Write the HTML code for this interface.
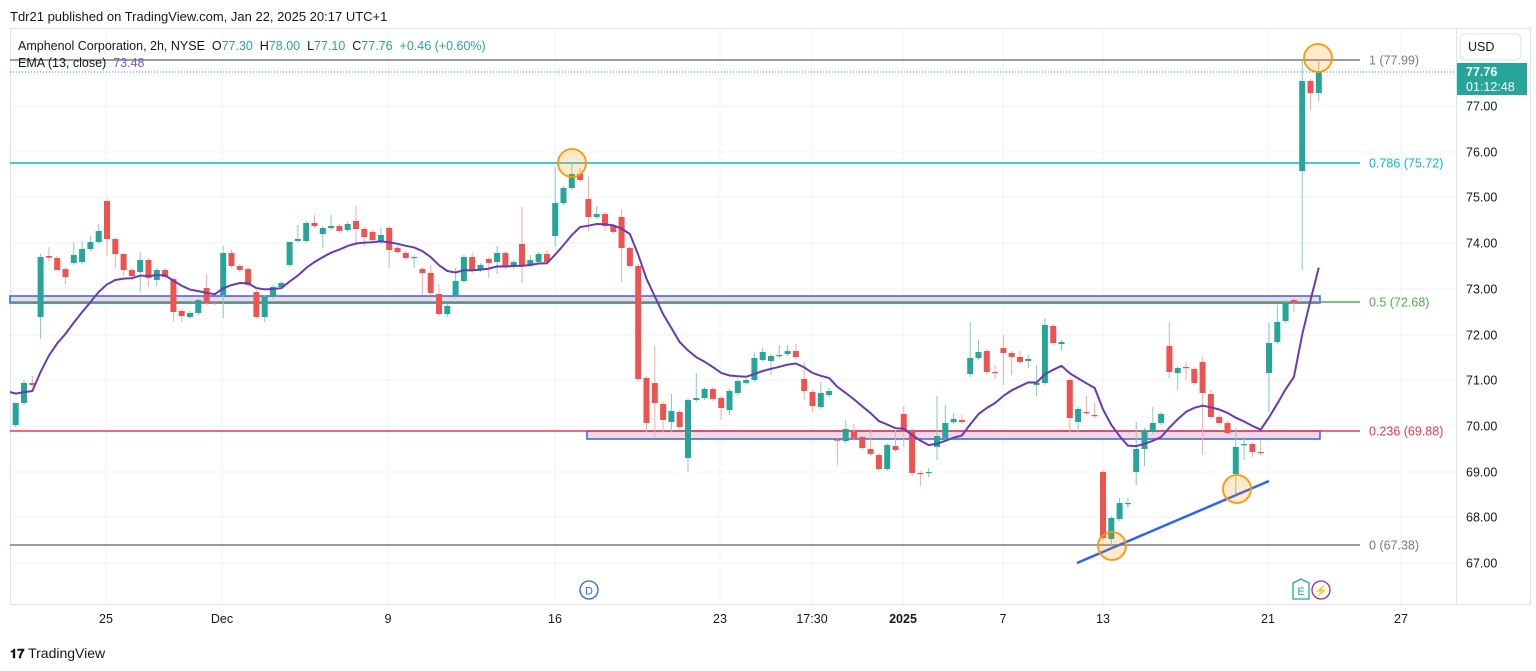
<!DOCTYPE html><html><head><meta charset="utf-8"><style>
body{margin:0;width:1536px;height:671px;background:#fff;overflow:hidden;font-family:"Liberation Sans",sans-serif}
svg{position:absolute;left:0;top:0}
</style></head><body>
<svg id="s" width="1536" height="671" xmlns="http://www.w3.org/2000/svg" font-family="Liberation Sans, sans-serif"></svg>
<script>
const C=[[425,403,403,427],[403,383,380,405],[383,385,376,387],[317,257,254,339],[256,257.7,247,262],[258,270,256,270],[269,277,267,284],[263,255,242,265],[262,249,241,264],[249,242,236,251],[242,231,224,244],[201,239,199,256],[239,254,238,268],[254,270,253,276],[270,276,268,280],[272,260,252,292],[260,278,258,287],[280,270,268,286],[270,277,268,279],[279,312,277,322],[311,316,309,322],[317,313,311,319],[313,300,299,315],[288,303,274,305],[302,303,300,305],[295,253,246,318],[253,266,250,268],[266,270,264,272],[269,285,267,287],[292,317,290,319],[317,297,295,322],[297,287,285,299],[287,283,281,289],[265,242,242,267],[241,239,225,243],[241,223,221,243],[223,226,215,228],[234,228,226,248],[228,226,215,230],[226,231,224,233],[230,224,222,232],[221,229,206,246],[229,237,227,246],[232,240,230,242],[242,235,228,244],[228,250,226,268],[248,252,246,254],[253,258,251,260],[258,257,255,268],[269,273,267,295],[273,293,265,295],[294,314,284,316],[314,306,304,317],[296,281,268,298],[281,257,255,283],[257,271,253,273],[270,265,263,272],[259,263,257,278],[262,253,246,274],[253,267,251,269],[267,262,260,269],[244,266,207,283],[265,260,255,267],[262,254,252,264],[254,262,250,264],[236,203,167,247],[203,188,186,205],[188,174,162,190],[174,180,168,182],[199,217,176,231],[217,214,206,219],[214,226,212,231],[226,232,224,234],[217,248,210,282],[248,266,246,268],[266,379,264,382],[378,423,376,432],[383,403,346,438],[404,420,402,433],[422,411,394,432],[412,427,410,429],[458,400,398,472],[400,398,373,402],[398,389,387,400],[389,399,387,401],[398,408,396,420],[410,391,389,415],[393,381,379,395],[383,380,378,385],[380,358,352,382],[360,352,348,362],[361,356,354,375],[356,355,345,358],[354,351,345,356],[351,357,344,359],[379,391,362,400],[392,406,390,412],[407,393,382,409],[395,391,388,397],[439.5,440.5,437,465],[441,429,420,443],[432,438,424,440],[437,448,435,450],[449,454,429,456],[455,469,453,471],[469,445,443,471],[446,450,430,452],[414,432,406,447],[430,473,428,476],[473,474,471,486],[473,472,468,477],[447,436,396,460],[438,423,405,440],[422,419,413,424],[420,422,415,424],[374,358,322,377],[358,352,340,360],[351,372,349,375],[372,373,365,379],[348,353,335,385],[353,357,351,375],[357,362,351,364],[361,359,355,368],[385,383,365,396],[383,325,318,385],[326,343,324,345],[344,342,340,350],[380,418,378,432],[422,409,407,432],[412,413,396,415],[415,416,403,418],[472,538,470,540],[539,518,516,545],[519,503,498,521],[504,503,498,508],[472,449,422,485],[449,430,428,466],[432,423,407,434],[423,414,412,425],[346,372,322,378],[373,368,366,390],[367,368,362,380],[369,383,367,385],[362,393,357,455],[394,417,390,419],[417,423,415,425],[423,433,421,435],[474,447,428,495],[445,444,437,460],[444,452,442,457],[452,453,440,455],[373,343,323,412],[342,322,305,344],[321,303,300,323],[300,303,298,312],[171,81,60,270],[81,93,79,110],[93,72,60,101]];
let h='';
const G='#f0f3fa';
[106,152,197,243,289,335,380,426,472,517,563].forEach(y=>h+=`<line x1="10" x2="1456" y1="${y}" y2="${y}" stroke="${G}"/>`);
[106,222,388,555,720,812,903,1003,1103,1268,1401].forEach(x=>h+=`<line x1="${x}" x2="${x}" y1="29" y2="604" stroke="${G}"/>`);
h+=`<rect x="10.5" y="28.5" width="1520" height="576" fill="none" stroke="#e0e3eb"/><line x1="1456.5" x2="1456.5" y1="28" y2="604" stroke="#e0e3eb"/>`;
h+=`<rect x="10" y="296" width="1310" height="7" fill="#f8d7e3" stroke="#2962ff" stroke-width="1.5"/>`;
h+=`<rect x="587" y="431" width="733" height="8" fill="#f8d7e3" stroke="#2962ff" stroke-width="1.5"/>`;
const F=[[60,'#787b86','1 (77.99)'],[163,'#00bcd4','0.786 (75.72)'],[302,'#4caf50','0.5 (72.68)'],[431,'#f23645','0.236 (69.88)'],[545,'#787b86','0 (67.38)']];
F.forEach(f=>{h+=`<line x1="10" x2="1360" y1="${f[0]}" y2="${f[0]}" stroke="${f[1]}" stroke-width="1.5"/><text x="1369" y="${f[0]+4.5}" font-size="12.5" fill="${f[1]}">${f[2]}</text>`});
h+=`<line x1="10" x2="1456" y1="72" y2="72" stroke="#26a69a" stroke-dasharray="1 2"/>`;
let e=392,pts=[];
C.forEach((c,i)=>{const x=15.7+i*8.3;const up=c[1]<c[0];const col=up?'#26a69a':'#ef5350';const wc=up?'#80cbc4':'#f7a9a7';
h+=`<line x1="${x}" x2="${x}" y1="${c[2]}" y2="${c[3]}" stroke="${wc}" stroke-width="1"/>`;
const t=Math.min(c[0],c[1]),b=Math.max(Math.abs(c[1]-c[0]),1.2);
h+=`<rect x="${x-3}" y="${t}" width="6" height="${b}" fill="${col}"/>`;
e=e+(c[1]-e)*2/14;pts.push(x.toFixed(1)+','+e.toFixed(1));});
h+=`<polyline points="10,392 ${pts.join(' ')}" fill="none" stroke="#673ab7" stroke-width="2"/>`;
h+=`<line x1="1077" y1="563" x2="1269" y2="481" stroke="#2962ff" stroke-width="2.5"/>`;
[[572,163],[1318,58],[1112,546],[1237,489]].forEach(p=>h+=`<circle cx="${p[0]}" cy="${p[1]}" r="14" fill="rgba(255,152,0,0.2)" stroke="#ff9800" stroke-width="1.8"/>`);
[[77,106],[76,152],[75,197],[74,243],[73,289],[72,335],[71,380],[70,426],[69,472],[68,517],[67,563]].forEach(p=>h+=`<text x="1466" y="${p[1]+4.5}" font-size="12.5" fill="#131722">${p[0].toFixed(2)}</text>`);
h+=`<rect x="1460" y="34" width="61" height="26" rx="5" fill="#fff" stroke="#e0e3eb"/><text x="1468" y="51" font-size="12.5" fill="#131722">USD</text>`;
h+=`<rect x="1457" y="63" width="70" height="32" fill="#26a69a"/><text x="1466" y="76" font-size="12.5" font-weight="bold" fill="#fff">77.76</text><text x="1466" y="91" font-size="12.5" fill="#fff">01:12:48</text>`;
[[106,'25'],[222,'Dec'],[388,'9'],[555,'16'],[720,'23'],[812,'17:30'],[903,'2025'],[1003,'7'],[1103,'13'],[1268,'21'],[1401,'27']].forEach(t=>h+=`<text x="${t[0]}" y="623" font-size="12.5" text-anchor="middle" fill="#131722" ${t[1]=='2025'?'font-weight="bold"':''}>${t[1]}</text>`);
h+=`<circle cx="589" cy="590" r="9" fill="#fff" stroke="#2962ff" stroke-width="1.3"/><text x="589" y="594.5" font-size="11" text-anchor="middle" fill="#2962ff">D</text>`;
h+=`<path d="M1293 583 L1301 579 L1309 583 L1309 599 L1293 599Z" fill="#fff" stroke="#26a69a" stroke-width="1.3"/><text x="1301" y="595" font-size="11" text-anchor="middle" fill="#26a69a">E</text>`;
h+=`<circle cx="1321" cy="590" r="9" fill="#fff" stroke="#9c27b0" stroke-width="1.3"/><text x="1321" y="594.5" font-size="11" text-anchor="middle" fill="#9c27b0">⚡</text>`;
h+=`<text x="10" y="21" font-size="13" fill="#131722">Tdr21 published on TradingView.com, Jan 22, 2025 20:17 UTC+1</text>`;
h+=`<text x="18" y="50" font-size="12.5" fill="#131722" xml:space="preserve">Amphenol Corporation, 2h, NYSE&#160; O<tspan fill="#26a69a">77.30</tspan>&#160; H<tspan fill="#26a69a">78.00</tspan>&#160; L<tspan fill="#26a69a">77.10</tspan>&#160; C<tspan fill="#26a69a">77.76</tspan>&#160; <tspan fill="#26a69a">+0.46 (+0.60%)</tspan></text>`;
h+=`<text x="18" y="67" font-size="12.5" fill="#131722">EMA (13, close)&#160; <tspan fill="#7e57c2">73.48</tspan></text>`;
h+=`<text x="10" y="658" font-size="14" fill="#131722"><tspan font-weight="bold" font-size="13">𝟏𝟕</tspan> TradingView</text>`;
document.getElementById('s').innerHTML=h;
</script>
</body></html>
